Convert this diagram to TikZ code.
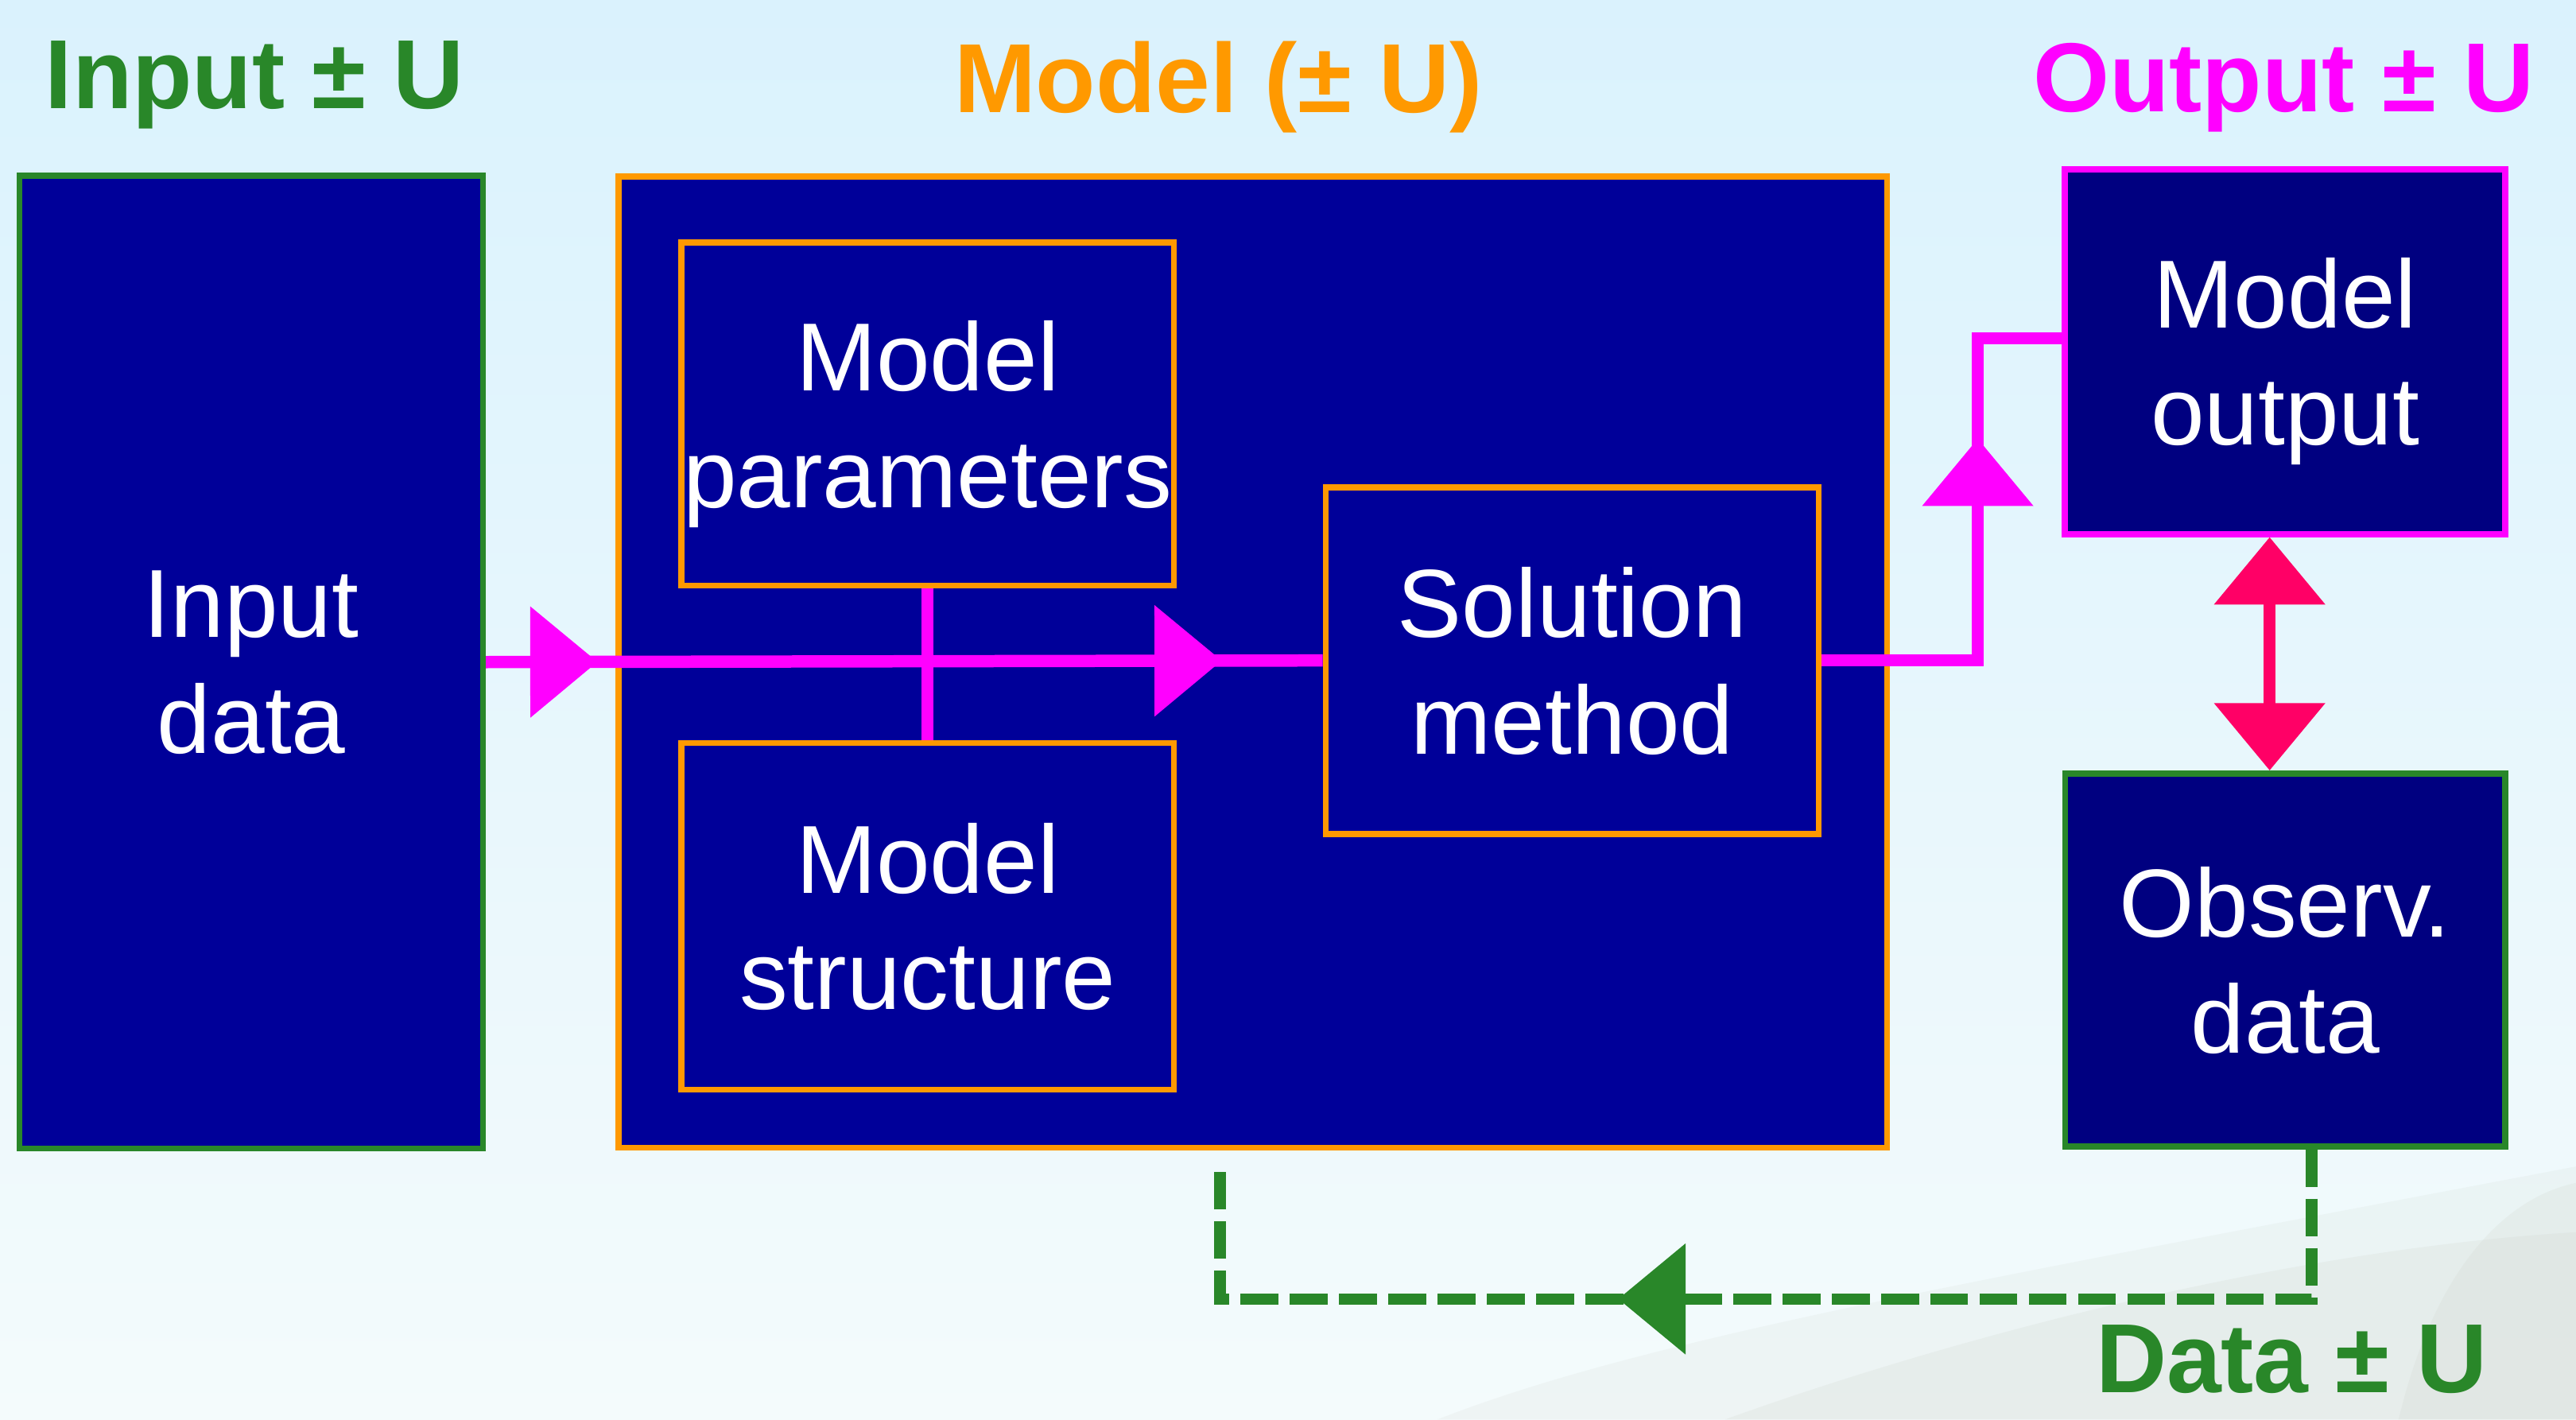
\documentclass[tikz,border=0pt]{standalone}
\usepackage{fontspec}
\setmainfont{Liberation Sans}
\usetikzlibrary{positioning, arrows.meta, decorations.markings}

\definecolor{ingreen}{RGB}{41,135,41}
\definecolor{modelorange}{RGB}{255,153,0}
\definecolor{outmagenta}{RGB}{255,0,255}
\definecolor{comppink}{RGB}{255,0,102}
\definecolor{boxblue}{RGB}{0,0,153}
\definecolor{boxnavy}{RGB}{0,0,128}
\definecolor{skytop}{RGB}{218,242,253}
\definecolor{skybot}{RGB}{244,251,252}
\definecolor{hillgray}{RGB}{205,210,202}

\tikzset{
  flowtip/.tip={Triangle[length=0.82cm, width=1.32cm]},
  boxtext/.style={font=\fontsize{33.5}{40.4}\selectfont, text=white, align=center, text depth=0pt, inner xsep=0pt},
  inbox/.style={boxtext, draw=ingreen, fill=boxblue, line width=0.07cm},
  modelbox/.style={boxtext, draw=modelorange, fill=boxblue, line width=0.074cm},
  subbox/.style={boxtext, draw=modelorange, fill=boxblue, line width=0.074cm},
  outbox/.style={boxtext, draw=outmagenta, fill=boxnavy, line width=0.078cm},
  obsbox/.style={boxtext, draw=ingreen, fill=boxnavy, line width=0.074cm},
  titletext/.style={font=\fontsize{34}{40}\selectfont\bfseries, anchor=base},
  flowline/.style={color=outmagenta, line width=0.15cm},
  compline/.style={color=comppink, line width=0.15cm},
  fbline/.style={color=ingreen, line width=0.14cm, dash pattern=on 0.46cm off 0.14cm},
}

\begin{document}
\begin{tikzpicture}
    \useasboundingbox (0,0) rectangle (31.36,-17.28);
    \shade[top color=skytop, bottom color=skybot] (0,0) rectangle (31.36,-17.28);
    % faint hills in the background
    \fill[hillgray, opacity=0.15] (17.5,-17.28) .. controls (20,-16.3) and (24,-15.6) .. (31.36,-14.2) -- (31.36,-17.28) -- cycle;
    \fill[hillgray, opacity=0.2] (21,-17.28) .. controls (24,-16.2) and (28,-15.2) .. (31.36,-15) -- (31.36,-17.28) -- cycle;
    \fill[hillgray, opacity=0.2] (29.2,-17.28) .. controls (29.6,-15.6) and (30.4,-14.6) .. (31.36,-14.4) -- (31.36,-17.28) -- cycle;

    \node[titletext, text=ingreen]      (intitle)    at (3.1,-1.32)   {Input ± U};
    \node[titletext, text=modelorange]  (modeltitle) at (14.83,-1.37) {Model (± U)};
    \node[titletext, text=outmagenta]   (outtitle)   at (27.8,-1.36)  {Output ± U};
    \node[titletext, text=ingreen]      (datatitle)  at (27.9,-16.95) {Data ± U};

    \node[inbox, minimum width=5.64cm, minimum height=11.84cm]                            (indata)    at (3.06,-8.06) {Input\\data};
    \node[modelbox, minimum width=15.44cm, minimum height=11.82cm, right=1.58cm of indata] (model)     {};
    \node[subbox, minimum width=6cm, minimum height=4.18cm,
          below right=0.8cm and 0.76cm of model.north west]                              (params)    {Model\\parameters};
    \node[subbox, minimum width=6cm, minimum height=4.22cm, below=1.84cm of params]       (structure) {Model\\structure};
    \node[subbox, minimum width=6cm, minimum height=4.22cm]                               (solution)  at (19.14,-8.04) {Solution\\method};
    \node[outbox, minimum width=5.36cm, minimum height=4.44cm]                            (output)    at (27.82,-4.28) {Model\\output};
    \node[obsbox, minimum width=5.36cm, minimum height=4.54cm, below=2.84cm of output]    (obs)       {Observ.\\data};
    \coordinate (fbend) at (14.85,-14.22);

    \draw[flowline] (params.south) -- (structure.north);
    \draw[flowline, postaction={decorate, decoration={markings,
            mark=at position 1.36cm with {\arrow[outmagenta]{flowtip}},
            mark=at position 8.96cm with {\arrow[outmagenta]{flowtip}}}}]
        (indata.east) -- (solution.west);
    \draw[flowline, postaction={decorate, decoration={markings,
            mark=at position 4.6cm with {\arrow[outmagenta]{flowtip}}}}]
        (solution.east) -- ++(1.9,0) |- ([yshift=0.16cm]output.west);
    \draw[compline, flowtip-flowtip] ([xshift=-0.19cm]output.south) -- ([xshift=-0.19cm]obs.north);
    \draw[fbline, postaction={decorate, decoration={markings,
            mark=at position 10.26cm with {\arrow[ingreen]{flowtip}}}}]
        ([xshift=0.32cm]obs.south) -- ++(0,-1.82) -| (fbend);
\end{tikzpicture}
\end{document}
